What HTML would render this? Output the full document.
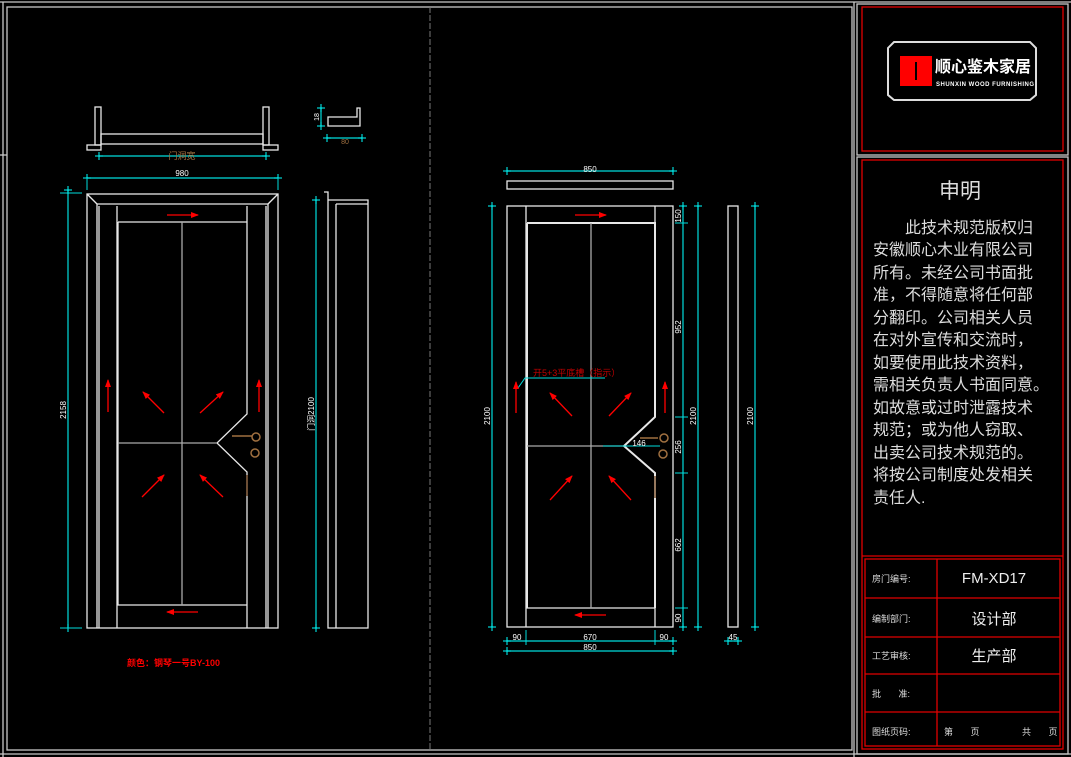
<!DOCTYPE html>
<html><head><meta charset="utf-8"><style>
html,body{margin:0;padding:0;background:#000;}
svg{display:block}
text{font-family:"Liberation Sans","Noto Sans CJK SC",sans-serif;}
</style></head><body>
<svg width="1071" height="757" viewBox="0 0 1071 757" xmlns="http://www.w3.org/2000/svg">
<defs>
<marker id="ar" markerWidth="8" markerHeight="6" refX="7" refY="3" orient="auto" markerUnits="userSpaceOnUse"><path d="M0,0 L8,3 L0,6 z" fill="#f00"/></marker>
<marker id="ct" markerWidth="8" markerHeight="8" refX="4" refY="4" orient="auto" markerUnits="userSpaceOnUse"><path d="M4,0 V8 M0,4 H8" stroke="#0ff" stroke-width="1"/></marker>
</defs>
<rect width="1071" height="757" fill="#000"/>
<!-- outer frames -->
<g fill="none" stroke="#c8c8c8" stroke-width="1.3">
<line x1="0" y1="2" x2="1071" y2="2"/>
<line x1="3" y1="2" x2="3" y2="757"/>
<line x1="0" y1="155" x2="7" y2="155"/>
<rect x="7" y="7" width="845" height="743"/>
<rect x="857" y="4" width="211" height="151"/>
<rect x="857" y="157" width="211" height="597"/>
<line x1="854" y1="2" x2="854" y2="757"/>
<line x1="0" y1="754" x2="1071" y2="754"/>
</g>
<line x1="430" y1="7" x2="430" y2="750" stroke="#777" stroke-width="1" stroke-dasharray="6,2"/>

<!-- title block -->
<g fill="none" stroke="#e00000" stroke-width="1.3">
<rect x="862" y="7" width="201" height="144"/>
<rect x="862" y="160" width="201" height="589"/>
<rect x="865" y="559" width="195" height="187"/>
<line x1="937" y1="559" x2="937" y2="746"/>
<line x1="865" y1="598" x2="1060" y2="598"/>
<line x1="865" y1="637" x2="1060" y2="637"/>
<line x1="865" y1="674" x2="1060" y2="674"/>
<line x1="865" y1="712" x2="1060" y2="712"/>
<line x1="862" y1="556" x2="1063" y2="556"/>
</g>
<path d="M894,42 H1030 L1036,48 V95 L1030,100 H894 L888,95 V48 Z" fill="none" stroke="#ddd" stroke-width="2"/>
<rect x="900" y="56" width="32" height="30" fill="#f00"/>
<line x1="916" y1="62" x2="916" y2="80" stroke="#000" stroke-width="2"/>
<text x="935" y="72" fill="#fff" font-size="16" font-weight="bold">顺心鉴木家居</text>
<text x="936" y="86" fill="#fff" font-size="6" font-weight="bold" letter-spacing="0.5">SHUNXIN WOOD FURNISHING</text>
<text x="960" y="198" fill="#ddd" font-size="21" text-anchor="middle">申明</text>
<g fill="#ddd" font-size="16">
<text x="905" y="233">此技术规范版权归</text>
<text x="873" y="255">安徽顺心木业有限公司</text>
<text x="873" y="278">所有。未经公司书面批</text>
<text x="873" y="300">准，不得随意将任何部</text>
<text x="873" y="323">分翻印。公司相关人员</text>
<text x="873" y="345">在对外宣传和交流时，</text>
<text x="873" y="368">如要使用此技术资料，</text>
<text x="873" y="390">需相关负责人书面同意。</text>
<text x="873" y="413">如故意或过时泄露技术</text>
<text x="873" y="435">规范；或为他人窃取、</text>
<text x="873" y="458">出卖公司技术规范的。</text>
<text x="873" y="480">将按公司制度处发相关</text>
<text x="873" y="503">责任人.</text>
</g>
<g fill="#ddd" font-size="9">
<text x="872" y="582">房门编号:</text>
<text x="872" y="622">编制部门:</text>
<text x="872" y="659">工艺审核:</text>
<text x="872" y="697">批&#160;&#160;&#160;&#160;&#160;&#160;&#160;准:</text>
<text x="872" y="735">图纸页码:</text>
<text x="944" y="735">第&#160;&#160;&#160;&#160;&#160;&#160;&#160;页&#160;&#160;&#160;&#160;&#160;&#160;&#160;&#160;&#160;&#160;&#160;&#160;&#160;&#160;&#160;&#160;&#160;共&#160;&#160;&#160;&#160;&#160;&#160;&#160;页</text>
</g>
<g fill="#eee" font-size="15" text-anchor="middle">
<text x="994" y="583">FM-XD17</text>
<text x="994" y="624">设计部</text>
<text x="994" y="661">生产部</text>
</g>

<!-- LEFT DOOR -->
<g fill="none" stroke="#e8e8e8" stroke-width="1.3">
<!-- top section -->
<rect x="95" y="107" width="6" height="38"/>
<rect x="263" y="107" width="6" height="38"/>
<rect x="101" y="134" width="162" height="10"/>
<rect x="87" y="145" width="14" height="5"/>
<rect x="263" y="145" width="15" height="5"/>
<!-- small profile -->
<path d="M328,117 H357 V108 H360 V126 H328 Z"/>
<!-- casing -->
<rect x="87" y="194" width="191" height="434"/>
<path d="M97,628 V204 H268 V628"/>
<path d="M99,628 V206 M266,206 V628"/>
<line x1="87" y1="194" x2="97" y2="204"/>
<line x1="278" y1="194" x2="268" y2="204"/>
<!-- leaf -->
<path d="M117,206 V628 M247,206 V414 L217,443 L247,472 V628"/>
<path d="M118,222 H247 M118,222 V605 H247"/>
<line x1="182" y1="222" x2="182" y2="605" stroke="#aaa"/>
<line x1="118" y1="443" x2="217" y2="443" stroke="#aaa"/>
<!-- side profile -->
<path d="M324,192 H328 V200 H368 V628 H328 V200"/>
<line x1="336" y1="204" x2="336" y2="628"/>
<line x1="336" y1="204" x2="368" y2="204"/>
</g>
<line x1="247" y1="475" x2="247" y2="496" stroke="#7a5230" stroke-width="1.5"/>
<g stroke="#a07040" stroke-width="1.5" fill="none">
<path d="M232,436 H252"/><circle cx="256" cy="437" r="4"/><circle cx="255" cy="453" r="4"/>
</g>
<!-- cyan dims left -->
<g stroke="#0dd" stroke-width="1.2" marker-start="url(#ct)" marker-end="url(#ct)">
<line x1="99" y1="156" x2="266" y2="156"/>
<line x1="87" y1="178" x2="278" y2="178"/>
<line x1="68" y1="190" x2="68" y2="628"/>
<line x1="316" y1="200" x2="316" y2="628"/>
<line x1="327" y1="138" x2="362" y2="138"/>
<line x1="321" y1="108" x2="321" y2="126"/>
</g>
<g stroke="#0dd" stroke-width="1">
<line x1="60" y1="193" x2="82" y2="193"/><line x1="60" y1="628" x2="82" y2="628"/>
<line x1="87" y1="178" x2="87" y2="190"/><line x1="278" y1="178" x2="278" y2="190"/>
</g>
<text x="182" y="159" fill="#a07040" font-size="9" text-anchor="middle">门洞宽</text>
<text x="182" y="176" fill="#fff" font-size="8" text-anchor="middle">980</text>
<text x="345" y="144" fill="#a07040" font-size="7" text-anchor="middle">80</text>
<text fill="#fff" font-size="8" transform="translate(66,410) rotate(-90)" text-anchor="middle">2158</text>
<text fill="#fff" font-size="8" transform="translate(314,414) rotate(-90)" text-anchor="middle">门洞2100</text>
<text fill="#fff" font-size="7" transform="translate(319,117) rotate(-90)" text-anchor="middle">18</text>
<!-- red arrows left -->
<g stroke="#f00" stroke-width="1.3" marker-end="url(#ar)">
<line x1="167" y1="215" x2="198" y2="215"/>
<line x1="198" y1="612" x2="167" y2="612"/>
<line x1="108" y1="412" x2="108" y2="380"/>
<line x1="259" y1="412" x2="259" y2="380"/>
<line x1="164" y1="413" x2="143" y2="392"/>
<line x1="200" y1="413" x2="223" y2="392"/>
<line x1="142" y1="497" x2="164" y2="475"/>
<line x1="223" y1="497" x2="200" y2="475"/>
</g>
<text x="127" y="666" fill="#f00" font-size="9" font-weight="bold">颜色：钢琴一号BY-100</text>

<!-- RIGHT DOOR -->
<g fill="none" stroke="#e8e8e8" stroke-width="1.3">
<rect x="507" y="181" width="166" height="8"/>
<rect x="507" y="206" width="166" height="421"/>
<path d="M526,206 V627 M655,206 V223 M655,608 V627"/>
<path d="M526,608 H655"/>
<path d="M527,223 H655 V417 L624,446 L655,473 V608" stroke-width="2"/>
<path d="M527,223 V608" stroke-width="2"/>
<line x1="591" y1="223" x2="591" y2="608" stroke="#aaa"/>
<line x1="527" y1="446" x2="624" y2="446" stroke="#aaa"/>
<rect x="728" y="206" width="10" height="421"/>
</g>
<line x1="655" y1="476" x2="655" y2="498" stroke="#7a5230" stroke-width="1.5"/>
<g stroke="#a07040" stroke-width="1.5" fill="none">
<path d="M640,438 H658"/><circle cx="664" cy="438" r="4"/><circle cx="663" cy="454" r="4"/>
</g>
<g stroke="#0dd" stroke-width="1.2" marker-start="url(#ct)" marker-end="url(#ct)">
<line x1="507" y1="171" x2="673" y2="171"/>
<line x1="492" y1="206" x2="492" y2="627"/>
<line x1="683" y1="206" x2="683" y2="627"/>
<line x1="698" y1="206" x2="698" y2="627"/>
<line x1="755" y1="206" x2="755" y2="627"/>
<line x1="507" y1="641" x2="673" y2="641"/>
<line x1="507" y1="651" x2="673" y2="651"/>
<line x1="728" y1="641" x2="738" y2="641"/>
</g>
<g stroke="#0dd" stroke-width="1">
<line x1="675" y1="223" x2="688" y2="223"/><line x1="675" y1="417" x2="688" y2="417"/>
<line x1="675" y1="473" x2="688" y2="473"/><line x1="675" y1="608" x2="688" y2="608"/>
<line x1="526" y1="630" x2="526" y2="645"/><line x1="655" y1="630" x2="655" y2="645"/>
<line x1="603" y1="446" x2="660" y2="446"/>
<polyline points="518,388 525,378 605,378" fill="none"/>
</g>
<g fill="#fff" font-size="8" text-anchor="middle">
<text x="590" y="172">850</text>
<text transform="translate(490,416) rotate(-90)">2100</text>
<text transform="translate(696,416) rotate(-90)">2100</text>
<text transform="translate(753,416) rotate(-90)">2100</text>
<text transform="translate(681,216) rotate(-90)">150</text>
<text transform="translate(681,327) rotate(-90)">952</text>
<text transform="translate(681,447) rotate(-90)">256</text>
<text transform="translate(681,545) rotate(-90)">662</text>
<text transform="translate(681,618) rotate(-90)">90</text>
<text x="517" y="640">90</text>
<text x="590" y="640">670</text>
<text x="664" y="640">90</text>
<text x="590" y="650">850</text>
<text x="733" y="640">45</text>
<text x="639" y="446">146</text>
</g>
<text x="533" y="376" fill="#c00000" font-size="9">开5+3平底槽（指示）</text>
<g stroke="#f00" stroke-width="1.3" marker-end="url(#ar)">
<line x1="575" y1="215" x2="606" y2="215"/>
<line x1="606" y1="615" x2="575" y2="615"/>
<line x1="516" y1="413" x2="516" y2="382"/>
<line x1="665" y1="413" x2="665" y2="382"/>
<line x1="572" y1="416" x2="550" y2="393"/>
<line x1="609" y1="416" x2="631" y2="393"/>
<line x1="550" y1="500" x2="572" y2="476"/>
<line x1="631" y1="500" x2="609" y2="476"/>
</g>
</svg>
</body></html>
